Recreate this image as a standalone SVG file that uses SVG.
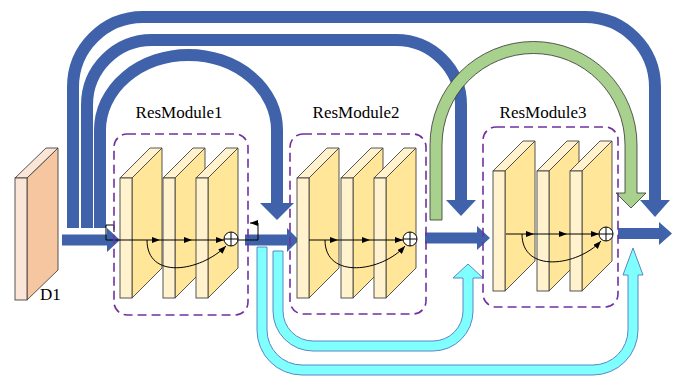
<svg xmlns="http://www.w3.org/2000/svg" xmlns:xlink="http://www.w3.org/1999/xlink" width="681" height="376" viewBox="0 0 681 376">
<style>
.blue{fill:none;stroke:#3F62AA;stroke-width:12}
.bluef{fill:#3F62AA;stroke:none}
.green{fill:#A9D18E;stroke:#333;stroke-width:0.8}
.cyan{fill:#80FFFF;stroke:#5A86C4;stroke-width:1}
.box{fill:none;stroke:#7030A0;stroke-width:1.6;stroke-dasharray:9 5}
.thin{fill:none;stroke:#000;stroke-width:1}
.lab{font-family:"Liberation Serif","Times New Roman",serif;font-size:17px;fill:#000}
.sf{fill:#FFF2CC;stroke:#444;stroke-width:0.9}
.ss{fill:#FFE699;stroke:#444;stroke-width:0.9}
.plus{fill:#fff;stroke:#000;stroke-width:1}
</style>
<defs>
<marker id="ah" viewBox="0 0 8 6" refX="8" refY="3" markerWidth="8" markerHeight="6" markerUnits="userSpaceOnUse" orient="auto">
<path d="M0,0 L8,3 L0,6 Z" fill="#000"/>
</marker>
<g id="slab">
<polygon class="ss" points="12,0 42,-30 42,90 12,120"/>
<polygon class="sf" points="0,0 30,-30 42,-30 12,0"/>
<rect class="sf" x="0" y="0" width="12" height="120"/>
</g>
<g id="oplus">
<circle class="plus" cx="0" cy="0" r="7"/>
<path class="thin" d="M-7,0 H7 M0,-7 V7"/>
</g>
</defs>
<rect width="681" height="376" fill="#fff"/>

<g id="connectors">
<!-- blue skip arches -->
<path class="blue" d="M73,228 V87 A70,70 0 0 1 143,17 H585 A70,70 0 0 1 655,87 V201"/>
<polygon class="bluef" points="640,200 670,200 655,217"/>
<path class="blue" d="M87,228 V105 A65,65 0 0 1 152,40 H396 A65,65 0 0 1 461,105 V201"/>
<polygon class="bluef" points="446,200 476,200 461,216"/>
<path class="blue" d="M100,228 V130 A88.5,75 0 0 1 277,130 V204"/>
<polygon class="bluef" points="260,203 294,203 277,220"/>
<!-- green -->
<path class="green" d="M430,220 V145 A103.5,103.5 0 0 1 637,145 V193 H646 L631,208 L616,193 H625 V145 A91.5,91.5 0 0 0 442,145 V220 Z"/>
<!-- cyan -->
<path class="cyan" d="M257,247 V330 A45,45 0 0 0 302,375 H593 A45,45 0 0 0 638,330 V275 H643 L633,248 L623,275 H628 V330 A35,35 0 0 1 593,365 H302 A35,35 0 0 1 267,330 V247 Z"/>
<path class="cyan" d="M273,251 V311 A40,40 0 0 0 313,351 H433 A40,40 0 0 0 473,311 V278 H483 L468,264 L453,278 H463 V311 A30,30 0 0 1 433,341 H313 A30,30 0 0 1 283,311 V251 Z"/>
<!-- main flow -->
<polygon class="bluef" points="62,234.5 107,234.5 107,228 120,240 107,252 107,245.5 62,245.5"/>
<polygon class="bluef" points="245,234.5 287,234.5 287,228 299,240 287,252 287,245.5 245,245.5"/>
<polygon class="bluef" points="425,232.5 477,232.5 477,226 490,238 477,250 477,243.5 425,243.5"/>
<polygon class="bluef" points="618,228 659,228 659,222 672,233.5 659,245 659,239 618,239"/>
<!-- small thin connectors -->
<path class="thin" d="M106,240 V225 H114 V232"/>
<path class="thin" d="M238,240 H258 V223 H250" marker-end="url(#ah)"/>
</g>

<g id="D1">
<polygon points="27,178 58,148 58,270 27,300" fill="#F6C6A0" stroke="#444" stroke-width="0.9"/>
<polygon points="15,178 46,148 58,148 27,178" fill="#FBE5D6" stroke="#444" stroke-width="0.9"/>
<rect x="15" y="178" width="12" height="122" fill="#FBE5D6" stroke="#444" stroke-width="0.9"/>
<text class="lab" x="40" y="300">D1</text>
</g>

<g id="ResModule1">
<use xlink:href="#slab" x="120" y="178"/>
<use xlink:href="#slab" x="163" y="178"/>
<use xlink:href="#slab" x="196" y="178"/>
<path class="thin" d="M106,240 H160" marker-end="url(#ah)"/>
<path class="thin" d="M160,240 H192" marker-end="url(#ah)"/>
<path class="thin" d="M192,240 H224" marker-end="url(#ah)"/>
<path class="thin" d="M147,240 C147,280 200,272 226,246" marker-end="url(#ah)"/>
<use xlink:href="#oplus" x="231" y="239"/>
<rect class="box" x="114" y="134" width="134" height="181" rx="13"/>
<text class="lab" x="179" y="118" text-anchor="middle">ResModule1</text>
</g>

<g id="ResModule2">
<use xlink:href="#slab" x="297" y="178"/>
<use xlink:href="#slab" x="341" y="178"/>
<use xlink:href="#slab" x="374" y="178"/>
<path class="thin" d="M309,240 H338" marker-end="url(#ah)"/>
<path class="thin" d="M338,240 H370" marker-end="url(#ah)"/>
<path class="thin" d="M370,240 H403" marker-end="url(#ah)"/>
<path class="thin" d="M325,240 C325,280 382,272 405,246" marker-end="url(#ah)"/>
<use xlink:href="#oplus" x="410" y="239"/>
<rect class="box" x="290" y="134" width="136" height="180" rx="13"/>
<text class="lab" x="356" y="118" text-anchor="middle">ResModule2</text>
</g>

<g id="ResModule3">
<use xlink:href="#slab" x="493" y="171"/>
<use xlink:href="#slab" x="537" y="171"/>
<use xlink:href="#slab" x="570" y="171"/>
<path class="thin" d="M506,234 H534" marker-end="url(#ah)"/>
<path class="thin" d="M534,234 H567" marker-end="url(#ah)"/>
<path class="thin" d="M567,234 H599" marker-end="url(#ah)"/>
<path class="thin" d="M522,234 C522,274 578,266 601,241" marker-end="url(#ah)"/>
<use xlink:href="#oplus" x="606" y="234"/>
<rect class="box" x="483" y="127" width="135" height="180" rx="13"/>
<text class="lab" x="543" y="118" text-anchor="middle">ResModule3</text>
</g>
</svg>
